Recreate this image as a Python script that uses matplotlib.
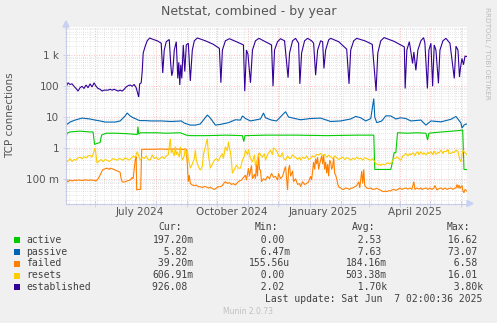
import numpy as np
import matplotlib
matplotlib.use("Agg")
import matplotlib.pyplot as plt
import matplotlib.dates as mdates
from matplotlib.ticker import LogLocator, FixedLocator, NullFormatter, FixedFormatter
from matplotlib.patches import Rectangle, Polygon

# ---------------- data (day offsets from graph start, values) ----------------
start = np.datetime64('2024-05-03T02:00')
end = np.datetime64('2025-06-07T02:00')

est_days = [0, 2, 4, 6, 8, 10, 12, 14, 16, 18, 20, 22, 24, 26, 28, 30, 32, 34, 36, 38, 40, 42, 44, 46, 48, 50,
            52, 54, 56, 58, 60, 62, 64, 66, 68, 70, 71.5, 72.5, 73.5, 75, 76, 77, 79, 81, 83.5, 86, 91, 95, 96.5,
            98, 100, 103, 104.5, 105.5, 106.5, 108, 110, 111.5, 112.5, 113.5, 114.5, 115.5, 117, 118.5, 120, 122,
            124, 126, 128, 131, 139, 147, 153, 154.5, 156, 159, 163, 170, 177, 178.3, 180, 181.5, 184, 186, 189,
            192.5, 199, 205, 206.5, 208, 211, 214, 218, 221.5, 223, 226, 229, 232, 233.3, 235, 238, 241, 245, 247,
            249, 251, 254, 256, 257.3, 259, 262, 264, 272, 280, 282.3, 284, 287, 290, 298, 305.5, 309.3, 311, 314,
            317.3, 327, 337.5, 338.3, 340, 342.5, 345.7, 347, 349, 351, 354, 356.7, 358, 360.5, 362, 364, 365.7,
            367.3, 369, 371.5, 373, 376, 379, 383, 387.3, 389, 391, 392.5, 393.5, 395, 396.5, 398, 400]
est_vals = [95, 130, 115, 120, 100, 85, 70, 90, 100, 85, 110, 90, 120, 95, 130, 100, 85, 80, 70, 75, 75, 75, 80, 75,
            80, 75, 70, 75, 70, 80, 95, 105, 110, 100, 115, 90, 60, 45, 120, 130, 300, 1200, 2000, 3000, 3700, 3400,
            3000, 2500, 270, 1500, 2800, 3300, 500, 220, 300, 1500, 2800, 180, 600, 110, 500, 180, 2200, 300, 2200,
            2500, 150, 1500, 3000, 3700, 3000, 2300, 1700, 130, 1500, 3000, 3500, 2800, 2200, 70, 1500, 1100, 130,
            1500, 3000, 3600, 2800, 2200, 100, 1500, 2800, 3500, 3000, 190, 1200, 3000, 3600, 2500, 120, 1200, 3000,
            3600, 3000, 2500, 230, 1500, 3000, 2800, 380, 1500, 3200, 3600, 2800, 1600, 120, 1500, 3000, 3600, 3000,
            2300, 70, 1200, 3000, 3800, 2900, 1900, 85, 1500, 2800, 550, 1300, 330, 1500, 3000, 3800, 2500, 85, 1500,
            2500, 100, 2200, 1500, 125, 1500, 3000, 3600, 2500, 180, 2000, 1500, 200, 400, 800, 500, 950, 926.08]

pas_days = [0, 4, 9, 16, 24, 29, 34, 39, 44, 49, 54, 59, 61, 64, 67, 70, 72, 74, 79, 85, 95, 105, 115, 118, 124,
            129, 134, 141, 144, 149, 154, 162, 169, 174, 176, 179, 184, 194, 197, 199, 205, 210, 219, 222, 234, 244,
            254, 264, 274, 284, 289, 294, 299, 304, 307, 308, 310, 315, 319, 324, 329, 334, 339, 344, 354, 359, 364,
            374, 384, 389, 394, 395, 397, 399, 400]
pas_vals = [5.5, 6.9, 8.0, 9.3, 8.7, 8.0, 7.5, 6.9, 6.9, 6.9, 7.5, 10.9, 13.6, 10.9, 9.5, 8.7, 8.0, 7.7, 7.7, 7.5,
            7.5, 7.2, 7.5, 6.4, 5.5, 5.5, 6.0, 11.7, 9.3, 5.5, 5.8, 6.6, 8.2, 8.0, 10.9, 9.0, 7.5, 8.7, 13.6, 9.5,
            8.0, 7.5, 15, 10, 8.2, 9.0, 9.3, 7.2, 7.5, 8.7, 10.5, 9.5, 7.5, 9.0, 40, 10, 6.6, 7.5, 11, 10.9, 8.7,
            9.5, 9.0, 7.5, 8.0, 5.5, 7.5, 7.0, 8.5, 10.5, 6.4, 4.4, 5.5, 6.0, 5.82]

act_days = [0, 1, 4, 14, 24, 27, 28.5, 31, 34, 35.5, 40, 50, 60, 67, 71, 71.7, 72.5, 74, 90, 100, 114, 120, 124,
            140, 160, 176, 177.3, 178.5, 200, 230, 260, 290, 307, 308, 324, 326, 327.3, 329, 330.7, 340, 350, 359,
            360.7, 362, 370, 380, 390, 395.7, 397, 400]
act_vals = [1.8, 3.0, 3.3, 3.5, 3.3, 3.3, 1.3, 1.4, 1.5, 2.6, 3.0, 3.0, 2.9, 2.8, 2.7, 4.9, 2.8, 3.1, 3.1, 3.0, 3.1,
            2.6, 2.5, 2.5, 2.6, 2.5, 1.6, 2.5, 2.6, 2.6, 2.5, 2.6, 2.6, 0.2, 0.2, 0.4, 0.7, 0.7, 3.1, 3.0, 3.1, 3.0,
            1.8, 3.0, 3.2, 3.4, 3.6, 3.8, 0.2, 0.1972]

res_days = [0, 2, 4, 6, 8, 10, 12, 14, 16, 18, 20, 22, 24, 26, 27, 29, 30, 31, 33, 35, 37, 39, 41, 43, 45, 47, 49,
            51, 53, 55, 57, 59, 61, 63, 65, 67, 69, 71, 73, 74, 76, 78, 80, 82, 84, 86, 88, 90, 92, 94, 96, 98, 100,
            102, 104, 105, 106, 108, 109, 110, 111, 113, 114, 115, 116, 118, 119, 120, 121, 122, 124, 126, 128, 129,
            130, 132, 134, 136, 137, 139, 141, 142, 144, 146, 148, 150, 152, 154, 156, 157, 159, 161, 162, 163, 164,
            165, 166, 168, 170, 172, 174, 176, 178, 179, 181, 182, 184, 186, 188, 189, 191, 193, 194, 196, 198, 199,
            201, 203, 204, 206, 207, 209, 211, 212, 214, 216, 217, 219, 221, 223, 224, 226, 228, 229, 231, 233, 234,
            236, 238, 240, 242, 244, 246, 248, 250, 252, 254, 256, 258, 260, 262, 264, 266, 268, 270, 272, 274, 276,
            278, 280, 282, 284, 286, 288, 290, 292, 294, 296, 298, 300, 302, 304, 306, 308, 309, 311, 313, 314, 316,
            318, 319, 321, 323, 324, 326, 327, 329, 330, 332, 334, 336, 338, 339, 341, 343, 344, 346, 348, 349, 351,
            352, 354, 356, 357, 359, 361, 362, 364, 366, 367, 369, 371, 372, 374, 376, 377, 379, 381, 382, 384, 386,
            387, 389, 391, 392, 393, 394, 395, 396, 398, 400]
res_vals = [0.32, 0.38, 0.45, 0.36, 0.42, 0.40, 0.48, 0.50, 0.44, 0.52, 0.47, 0.55, 0.57, 0.50, 0.62, 1.0, 0.55,
            0.32, 0.38, 0.42, 0.36, 0.42, 0.40, 0.36, 0.40, 0.45, 0.42, 0.40, 0.45, 0.43, 0.40, 0.48, 0.44, 0.40,
            0.46, 0.55, 0.48, 0.75, 0.50, 0.40, 0.50, 0.45, 0.55, 0.42, 0.40, 0.60, 0.45, 0.50, 0.42, 0.46, 0.52,
            0.45, 0.55, 0.6, 2.0, 0.70, 0.85, 0.55, 1.1, 0.60, 0.75, 0.50, 1.1, 0.6, 0.40, 0.55, 1.0, 0.60, 0.85,
            0.45, 0.22, 0.3, 0.45, 0.85, 0.4, 0.25, 0.19, 0.25, 0.6, 1.1, 2.0, 0.6, 0.22, 0.30, 0.40, 0.45, 0.38,
            0.52, 0.65, 0.45, 1.1, 0.8, 1.6, 1.0, 0.75, 0.4, 0.15, 0.20, 0.28, 0.22, 0.22, 0.4, 0.55, 0.85, 0.6, 0.9,
            0.46, 0.35, 0.6, 0.25, 0.45, 0.7, 0.59, 0.5, 0.65, 0.40, 0.6, 0.75, 0.85, 0.6, 1.0, 0.9, 0.7, 0.55, 0.52,
            0.7, 0.45, 0.40, 0.55, 0.45, 0.46, 0.6, 0.5, 0.5, 0.42, 0.5, 0.40, 0.5, 0.45, 0.55, 0.42, 0.46, 0.55,
            0.50, 0.62, 0.58, 0.67, 0.55, 0.62, 0.5, 0.58, 0.52, 0.45, 0.55, 0.48, 0.42, 0.46, 0.5, 0.42, 0.48, 0.45,
            0.40, 0.46, 0.42, 0.5, 0.44, 0.46, 0.40, 0.48, 0.45, 0.42, 0.40, 0.45, 0.35, 0.32, 0.28, 0.30, 0.27,
            0.30, 0.28, 0.30, 0.33, 0.30, 0.32, 0.38, 0.46, 0.46, 0.52, 0.45, 0.40, 0.55, 0.60, 0.67, 0.55, 0.65,
            0.59, 0.70, 0.55, 0.67, 0.75, 0.6, 0.75, 0.62, 0.70, 0.59, 0.72, 0.65, 0.75, 0.60, 0.80, 0.62, 0.72,
            0.68, 0.85, 0.65, 0.78, 0.75, 0.9, 0.65, 0.67, 0.75, 0.7, 0.85, 0.75, 0.55, 0.40, 0.35, 0.6, 0.85, 0.70,
            0.60691]

fail_days = [0, 1, 2, 4, 6, 8, 10, 12, 14, 16, 18, 20, 22, 24, 26, 28, 30, 32, 34, 36, 37, 39, 41, 43, 44, 46, 48,
             49, 51, 53, 54, 55, 56, 58, 59, 61, 63, 64, 66, 67, 68, 69, 70, 70.5, 72, 73, 74.5, 75.5, 78, 85, 95,
             100, 103, 110, 115, 120, 121, 122, 123, 124, 126, 128, 130, 132, 134, 136, 138, 140, 142, 144, 146, 148,
             150, 152, 154, 156, 158, 159, 161, 163, 165, 167, 169, 171, 173, 175, 177, 179, 180, 182, 183, 185, 186,
             188, 189, 190, 191, 192, 193, 194, 195, 197, 199, 201, 203, 205, 207, 209, 211, 212, 214, 216, 218, 219,
             220, 221, 222, 223, 224, 226, 227, 229, 231, 233, 234, 236, 238, 240, 242, 244, 245, 247, 248, 249, 250,
             251, 252, 253, 254, 255, 256, 257, 258, 259, 260, 261, 262, 263, 264, 265, 266, 267, 268, 269, 270, 271,
             272, 274, 276, 277, 279, 281, 283, 284, 286, 288, 290, 292, 293, 295, 296, 297, 298, 300, 302, 304, 306,
             308, 310, 312, 314, 315, 317, 319, 320, 322, 324, 325, 327, 329, 331, 333, 335, 337, 339, 341, 343, 345,
             346, 347, 348, 350, 352, 354, 355, 357, 359, 361, 363, 365, 367, 368, 370, 372, 374, 376, 378, 380, 382,
             384, 386, 388, 389, 390, 391, 392, 393, 394, 395, 396, 397, 398, 400]
fail_vals = [0.10, 0.085, 0.08, 0.09, 0.085, 0.09, 0.088, 0.09, 0.09, 0.088, 0.09, 0.092, 0.088, 0.091, 0.09,
             0.088, 0.085, 0.1, 0.13, 0.18, 0.2, 0.21, 0.22, 0.2, 0.22, 0.21, 0.2, 0.19, 0.18, 0.17, 0.16, 0.1, 0.08,
             0.078, 0.08, 0.085, 0.088, 0.091, 0.11, 0.1, 0.2, 0.4, 0.52, 0.043, 0.045, 0.045, 0.045, 0.9, 0.9, 0.9,
             0.92, 0.9, 0.92, 0.92, 0.9, 0.9, 0.3, 0.08, 0.13, 0.07, 0.0625, 0.06, 0.062, 0.055, 0.055, 0.052, 0.056,
             0.054, 0.05, 0.053, 0.048, 0.045, 0.05, 0.055, 0.055, 0.06, 0.075, 0.08, 0.07, 0.075, 0.065, 0.07,
             0.0625, 0.075, 0.085, 0.09, 0.11, 0.13, 0.09, 0.22, 0.12, 0.27, 0.1, 0.14, 0.10, 0.3, 0.12, 0.65, 0.2,
             0.19, 0.08, 0.1, 0.09, 0.12, 0.1, 0.15, 0.11, 0.12, 0.09, 0.15, 0.1, 0.12, 0.2, 0.25, 0.1, 0.043, 0.2,
             0.28, 0.12, 0.18, 0.08, 0.1, 0.065, 0.07, 0.055, 0.08, 0.065, 0.07, 0.08, 0.12, 0.09, 0.35, 0.2, 0.45,
             0.3, 0.5, 0.2, 0.3, 0.4, 0.55, 0.3, 0.6, 0.2, 0.35, 0.15, 0.3, 0.12, 0.4, 0.35, 0.2, 0.25, 0.5, 0.15,
             0.13, 0.1, 0.07, 0.055, 0.05, 0.045, 0.045, 0.05, 0.048, 0.045, 0.049, 0.05, 0.055, 0.06, 0.08, 0.05,
             0.18, 0.07, 0.2, 0.06, 0.05, 0.048, 0.05, 0.045, 0.046, 0.049, 0.045, 0.042, 0.04, 0.038, 0.04, 0.038,
             0.041, 0.04, 0.043, 0.045, 0.042, 0.045, 0.05, 0.045, 0.048, 0.05, 0.046, 0.05, 0.045, 0.06, 0.08,
             0.045, 0.05, 0.046, 0.05, 0.045, 0.048, 0.05, 0.045, 0.05, 0.045, 0.05, 0.06, 0.043, 0.048, 0.05, 0.045,
             0.05, 0.045, 0.048, 0.05, 0.045, 0.05, 0.05, 0.065, 0.05, 0.0625, 0.048, 0.055, 0.06, 0.04, 0.035,
             0.045, 0.0392]

names = ['active', 'passive', 'failed', 'resets', 'established']
colors = ['#00CC00', '#0066B3', '#FF8000', '#FFCC00', '#330099']
cur = ['197.20m', '  5.82 ', ' 39.20m', '606.91m', '926.08 ']
mins = ['  0.00 ', '  6.47m', '155.56u', '  0.00 ', '  2.02 ']
avgs = ['  2.53 ', '  7.63 ', '184.16m', '503.38m', '  1.70k']
maxs = [' 16.62 ', ' 73.07 ', '  6.58 ', ' 16.01 ', '  3.80k']

ytick_vals = [0.1, 1, 10, 100, 1000]
ytick_labels = ['100 m', '1', '10', '100', '1 k']
xlabel_dates = ['2024-07-16', '2024-10-15', '2025-01-15', '2025-04-16']
xlabel_texts = ['July 2024', 'October 2024', 'January 2025', 'April 2025']

series = [(act_days, act_vals), (pas_days, pas_vals), (fail_days, fail_vals),
          (res_days, res_vals), (est_days, est_vals)]

# ---------------- figure ----------------
W, H = 497, 323
fig = plt.figure(figsize=(W / 100, H / 100), dpi=100, facecolor='#F0F0F0')


def fx(x):
    return x / W


def fy(y):
    return 1 - y / H


L, R, T, B = 66, 467, 27, 203.5
ax = fig.add_axes([fx(L), fy(B), fx(R - L), (B - T) / H])
ax.set_facecolor('white')


def to_dt(days):
    d = np.asarray(days, dtype=float)
    return start + (d * 86400).astype('timedelta64[s]')


for (d, v), c in zip(series, colors):
    ax.plot(to_dt(d), v, color=c, lw=0.8, solid_joinstyle='miter')

ax.set_yscale('log')
ax.set_ylim(0.0157, 8400)
ax.set_xlim(start, end)

axis_col = '#C8CCE6'
for s in ['top', 'right']:
    ax.spines[s].set_visible(False)
for s in ['left', 'bottom']:
    ax.spines[s].set_color(axis_col)
    ax.spines[s].set_linewidth(0.8)

ax.yaxis.set_major_locator(FixedLocator(ytick_vals))
ax.yaxis.set_major_formatter(FixedFormatter(ytick_labels))
ax.yaxis.set_minor_locator(LogLocator(base=10, subs=np.arange(2, 10)))
ax.yaxis.set_minor_formatter(NullFormatter())

ax.xaxis.set_major_locator(mdates.MonthLocator())
ax.xaxis.set_major_formatter(NullFormatter())
ax.xaxis.set_minor_locator(mdates.WeekdayLocator(byweekday=mdates.MO))

ax.tick_params(which='major', direction='inout', length=4, width=0.6, color=axis_col,
               labelsize=7.5, labelcolor='#555555', pad=3)
ax.tick_params(which='minor', direction='inout', length=2, width=0.5, color=axis_col)

ax.grid(which='major', color='#FF0000', alpha=0.35, linestyle=(0, (1, 2)), lw=0.6)
ax.grid(which='minor', color='#B0B0B0', alpha=0.6, linestyle=(0, (1, 2)), lw=0.5)
ax.set_axisbelow(True)

for ds, t in zip(xlabel_dates, xlabel_texts):
    ax.text(np.datetime64(ds), -0.05, t, transform=ax.get_xaxis_transform(),
            ha='center', va='center', fontsize=7.5, color='#555555')

# axis arrows
fig.patches.append(Polygon([[fx(L - 3), fy(T)], [fx(L + 3), fy(T)], [fx(L), fy(T - 6)]],
                           closed=True, transform=fig.transFigure, color='#C8D0F4', zorder=5))
fig.patches.append(Polygon([[fx(R), fy(B - 3)], [fx(R), fy(B + 3)], [fx(R + 6), fy(B)]],
                           closed=True, transform=fig.transFigure, color='#C8D0F4', zorder=5))

# title / labels
fig.text(fx(248.5), fy(12), 'Netstat, combined - by year', ha='center', va='center',
         fontsize=9, color='#555555')
fig.text(fx(10), fy((T + B) / 2), 'TCP connections', ha='center', va='center',
         rotation=90, fontsize=7.5, color='#555555')
fig.text(fx(487), fy(53), 'RRDTOOL / TOBI OETIKER', ha='center', va='center',
         rotation=270, fontsize=5.2, color='#BBBBBB')

# legend
mono = 'DejaVu Sans Mono'
txt_col = '#404040'
hdr_y = 227.3
for label, xr in zip(['Cur:', 'Min:', 'Avg:', 'Max:'], [158.3, 255, 351.7, 446.7]):
    fig.text(fx(xr), fy(hdr_y), label, ha='left', va='center', family=mono, fontsize=7, color=txt_col)

row_y = [240, 251.8, 263.5, 275.5, 287.3]
for i in range(5):
    y = row_y[i]
    fig.patches.append(Rectangle((fx(14), fy(y + 3)), 6 / W, 6 / H, transform=fig.transFigure,
                                 facecolor=colors[i], edgecolor='none'))
    fig.text(fx(26.5), fy(y), names[i], ha='left', va='center', family=mono, fontsize=7, color=txt_col)
    for col, xr in zip([cur, mins, avgs, maxs], [193.5, 290, 386.7, 482.7]):
        fig.text(fx(xr), fy(y), col[i], ha='right', va='center', family=mono, fontsize=7, color=txt_col)

fig.text(fx(482.7), fy(299.3), 'Last update: Sat Jun  7 02:00:36 2025', ha='right', va='center',
         family=mono, fontsize=7, color=txt_col)
fig.text(fx(248), fy(311.5), 'Munin 2.0.73', ha='center', va='center', fontsize=5.5, color='#C0C0C0')

fig.savefig('out.png', dpi=100, facecolor=fig.get_facecolor())
